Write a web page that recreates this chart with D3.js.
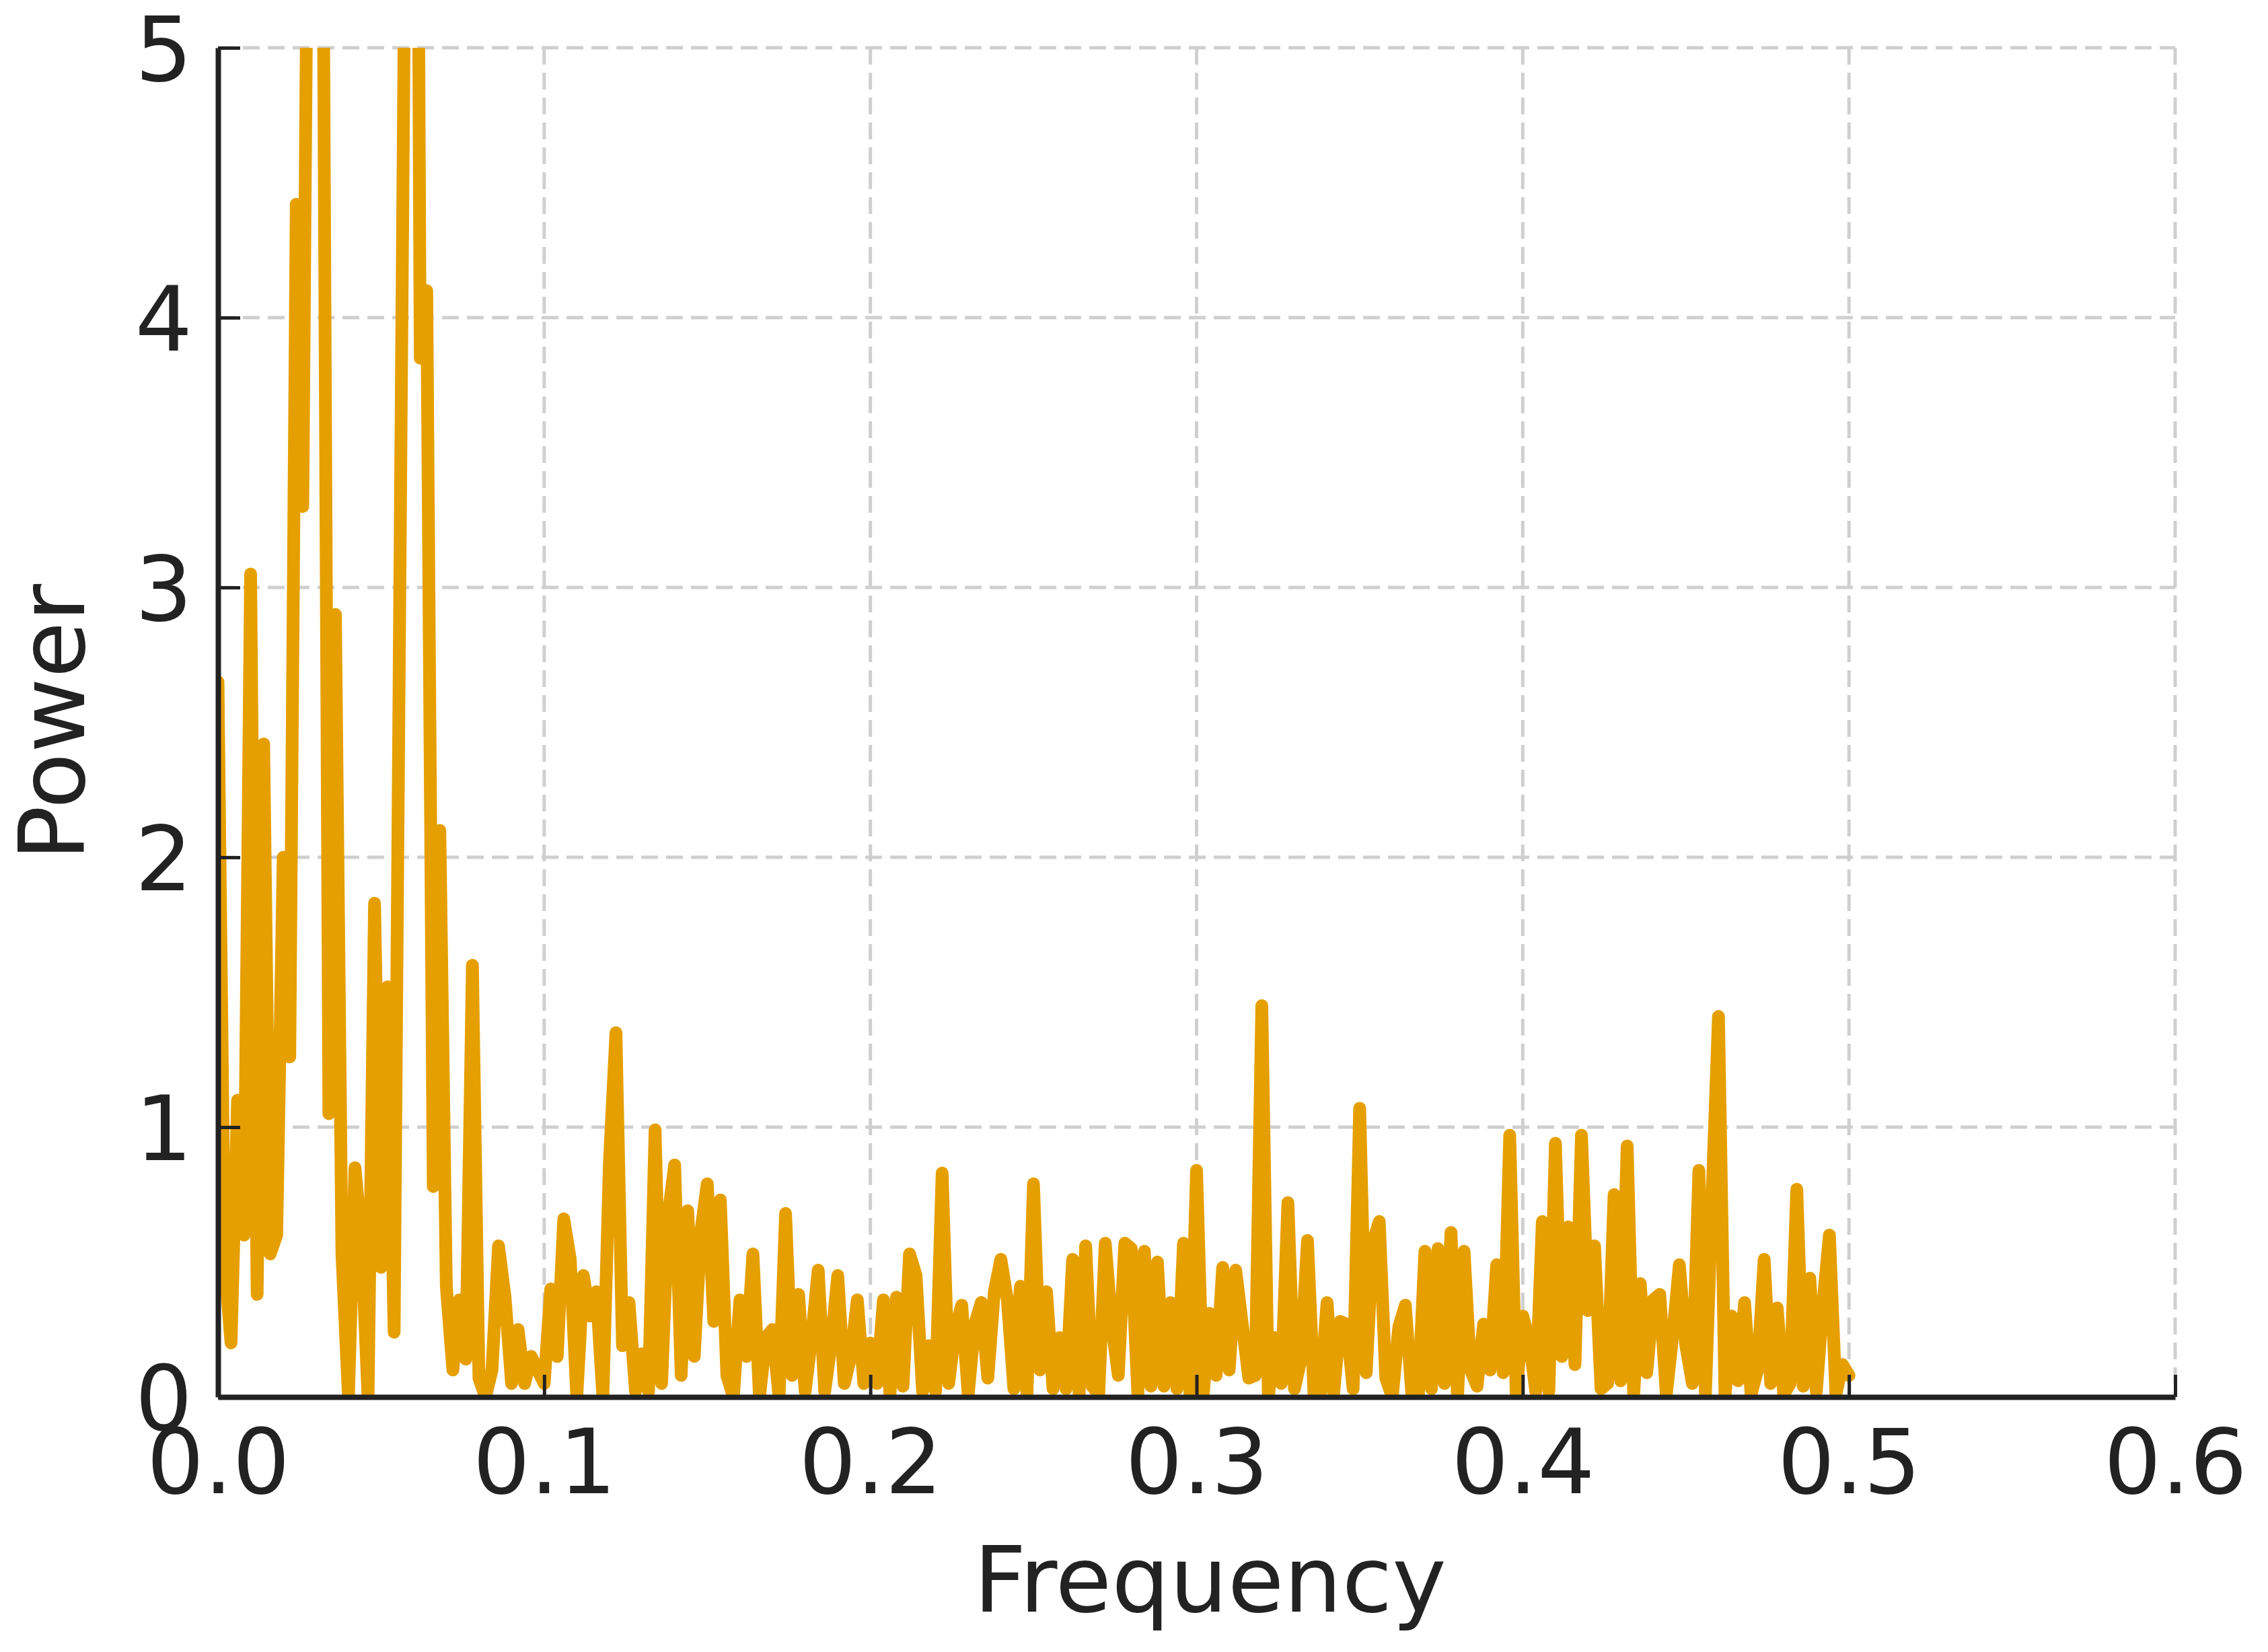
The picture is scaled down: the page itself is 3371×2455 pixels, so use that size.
<!DOCTYPE html>
<html><head><meta charset="utf-8">
<script src="https://cdn.jsdelivr.net/npm/d3@7"></script>
<style>html,body{margin:0;padding:0;background:#fff;}</style>
</head><body>
<svg id="c" width="3371" height="2455"></svg>
<script>
const freqStep = 0.002;
const power = [
2.65,0.5,0.2,1.1,0.6,3.05,0.38,2.42,0.53,0.6,2.0,1.26,4.42,3.3,6.5,9,6,1.05,2.9,0.53,
0.0,0.85,0.58,0.0,1.83,0.48,1.52,0.24,3.4,6.5,9,3.85,4.1,0.78,2.1,0.41,0.1,0.36,0.14,1.6,
0.07,0.0,0.1,0.56,0.37,0.05,0.25,0.05,0.15,0.1,
0.05,0.4,0.15,0.66,0.51,0.0,0.45,0.3,0.39,0.0,0.87,1.35,0.19,0.35,0.02,0.16,0.02,0.99,0.05,0.67,
0.86,0.08,0.69,0.15,0.61,0.79,0.28,0.73,0.08,0.0,0.36,0.15,0.53,0.0,0.22,0.25,0.0,0.68,0.08,0.38,
0.02,0.22,0.47,0.02,0.2,0.45,0.05,0.15,0.36,0.05,
0.2,0.05,0.36,0.01,0.37,0.04,0.53,0.45,0.02,0.19,0.02,0.83,0.05,0.25,0.34,0.01,0.27,0.35,0.07,0.39,
0.51,0.36,0.03,0.41,0.01,0.79,0.1,0.39,0.03,0.22,0.03,0.51,0.01,0.56,0.04,0.01,0.57,0.27,0.08,0.57,
0.55,0.01,0.54,0.04,0.5,0.04,0.35,0.03,0.57,0.01,
0.84,0.0,0.31,0.08,0.48,0.1,0.47,0.27,0.07,0.08,1.45,0.0,0.22,0.05,0.72,0.03,0.14,0.58,0.01,0.02,
0.35,0.01,0.28,0.27,0.03,1.07,0.09,0.57,0.65,0.07,0.0,0.26,0.34,0.01,0.01,0.54,0.03,0.55,0.05,0.61,
0.0,0.54,0.1,0.04,0.27,0.1,0.49,0.09,0.97,0.01,
0.3,0.21,0.02,0.65,0.02,0.94,0.15,0.63,0.12,0.97,0.32,0.56,0.03,0.05,0.75,0.06,0.93,0.01,0.42,0.09,
0.36,0.38,0.01,0.23,0.49,0.19,0.05,0.84,0.01,0.73,1.41,0.0,0.3,0.06,0.35,0.01,0.1,0.51,0.05,0.33,
0.01,0.05,0.77,0.04,0.44,0.02,0.34,0.6,0.01,0.12,0.08
];
const xTicks = [0,0.1,0.2,0.3,0.4,0.5,0.6];
const yTicks = [0,1,2,3,4,5];
const xLabel = "Frequency", yLabel = "Power";

const data = power.map((p,i)=>({f:i*freqStep,p}));
const L=324,R=3233,T=71,B=2076;
const svg = d3.select("#c");
const x = d3.scaleLinear().domain([0,0.6]).range([L,R]);
const y = d3.scaleLinear().domain([0,5]).range([B,T]);
const font = "DejaVu Sans, sans-serif";

const g = svg.append("g");
g.selectAll(".vx").data(xTicks.slice(1)).join("line")
 .attr("x1",d=>x(d)).attr("x2",d=>x(d)).attr("y1",T).attr("y2",B)
 .attr("stroke","#cfcfcf").attr("stroke-width",5).attr("stroke-dasharray","25,12");
g.selectAll(".hy").data(yTicks.slice(1)).join("line")
 .attr("x1",L).attr("x2",R).attr("y1",d=>y(d)).attr("y2",d=>y(d))
 .attr("stroke","#cfcfcf").attr("stroke-width",5).attr("stroke-dasharray","25,12");

svg.append("clipPath").attr("id","clip").append("rect")
 .attr("x",L).attr("y",T).attr("width",R-L).attr("height",B-T);
svg.append("path").datum(data).attr("clip-path","url(#clip)")
 .attr("fill","none").attr("stroke","#E69F00").attr("stroke-width",19)
 .attr("stroke-linejoin","round").attr("stroke-linecap","round")
 .attr("d",d3.line().x(d=>x(d.f)).y(d=>y(d.p)));

const xa = svg.append("g").attr("transform",`translate(0,${B})`)
 .call(d3.axisBottom(x).tickValues(xTicks).tickFormat(d3.format(".1f")).tickSizeInner(-33).tickSizeOuter(0).tickPadding(48));
const ya = svg.append("g").attr("transform",`translate(${L},0)`)
 .call(d3.axisLeft(y).tickValues(yTicks).tickFormat(d3.format("d")).tickSizeInner(-33).tickSizeOuter(0).tickPadding(38));
[xa,ya].forEach(a=>{
 a.select(".domain").attr("stroke","#222").attr("stroke-width",8);
 a.selectAll(".tick line").attr("stroke","#222").attr("stroke-width",5);
 a.selectAll("text").attr("fill","#222").style("font-family",font).style("font-size","134px");
});
ya.selectAll("text").attr("dy","0.36em");

svg.append("text").attr("x",(L+R)/2+20).attr("y",2395).attr("text-anchor","middle")
 .style("font-family",font).style("font-size","136px").attr("fill","#222").text(xLabel);
svg.append("text").attr("transform",`translate(125,${(T+B)/2}) rotate(-90)`).attr("text-anchor","middle")
 .style("font-family",font).style("font-size","136px").attr("fill","#222").text(yLabel);
</script>
</body></html>
